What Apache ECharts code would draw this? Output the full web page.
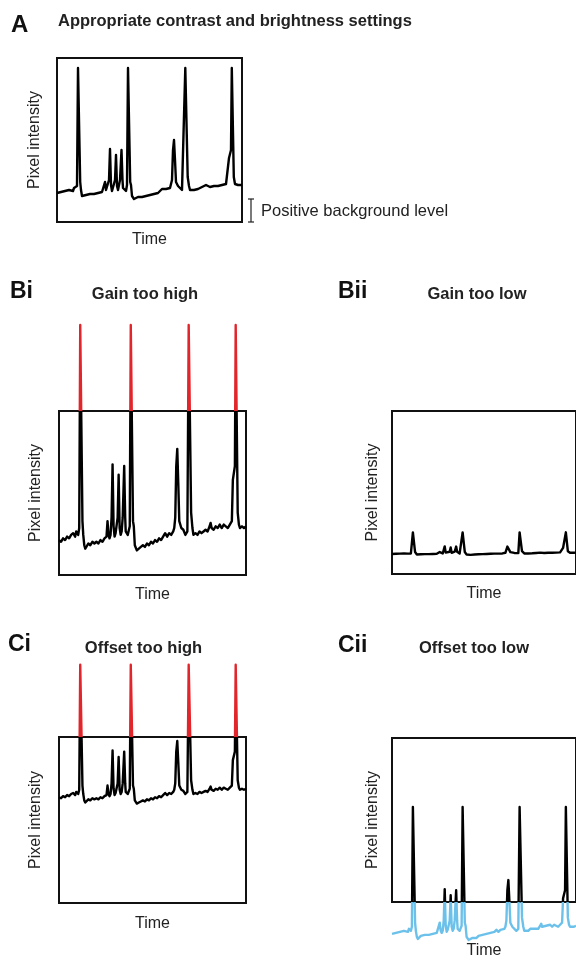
<!DOCTYPE html>
<html><head><meta charset="utf-8">
<script src="https://cdn.jsdelivr.net/npm/echarts@6/dist/echarts.min.js"></script>
<style>html,body{margin:0;padding:0;background:#fff}#c{width:576px;height:960px}</style>
</head><body><div id="c"></div>
<script>
// Base recorded trace (arbitrary time units, arbitrary intensity units)
const timeValues = [0,2,4,6,8,10,12,14,16,17,18,19,20,21,22.4,23.2,24,25,26,27,29,31,33,35,37,39,41,43,45,47,48,49,50,51,52,53,54,55,56,58,59,60,61,62,63,64.5,65.5,66,68,69,70,71,72.4,73.2,74,75,77,79,81,83,85,87,89,91,93,95,97,99,101,103,105,107,109,111,113,114,115,116,117,118,119,121,123,125,127,128.3,129.7,130.7,132,133,135,137,139,141,143,145,147,149,150,151,153,155,157,159,161,163,165,167,169,171,172,173,174,174.8,176,176.8,178,179,181,183,185];
const intensityValues = [29,28,30,29,31,30,32,33,31,34,35,32,36,154,154,40,32,26,24,25,27,26,28,27,28,27,29,28,30,31,40,32,30,32,42,73,37,31,33,42,67,36,32,34,42,72,42,34,32,31,37,154,154,40,37,26,23,24,25,26,25,27,26,28,27,29,28,30,29,31,33,31,33,32,34,36,42,72,82,62,40,36,35,32,34,154,154,45,36,32,33,32,34,33,34,35,34,37,39,36,35,37,36,38,36,38,37,36,38,40,64,68,72,154,154,45,38,36,37,36,37];

const panelLetters = ['A', 'Bi', 'Bii', 'Ci', 'Cii'];
const panelTitles = ['Appropriate contrast and brightness settings', 'Gain too high', 'Gain too low', 'Offset too high', 'Offset too low'];
// displayed intensity window for each acquisition setting
const windowMin = [0, 8.7, -86.7, -70.8, 60.4];
const windowMax = [164, 104, 855, 85.8, 222];
const timeMin = 0, timeMax = 185;

const FONT = '"Liberation Sans", Arial, Helvetica, sans-serif';
const RED = '#e2252b', BLUE = '#6cc1ea';

const grids = [
  {left: 57, top: 58, width: 185, height: 164},
  {left: 59, top: 411, width: 187, height: 164},
  {left: 392, top: 411, width: 187, height: 163},
  {left: 59, top: 737, width: 187, height: 166},
  {left: 392, top: 738, width: 187, height: 165}
];
const timeGaps = [10, 12, 12, 13, 41];
const yNameGaps = [14, 15, 11, 15, 11];
const withVisualMap = [false, true, false, true, true];

const seriesData = timeValues.map((t, i) => [t, intensityValues[i]]);
const BIG = 100000;

const option = {
  animation: false,
  backgroundColor: '#fff',
  grid: grids.map(g => Object.assign({show: true, borderColor: '#111', borderWidth: 2, backgroundColor: 'transparent', containLabel: false}, g)),
  xAxis: grids.map((g, i) => ({
    type: 'value', gridIndex: i, min: timeMin, max: timeMax,
    axisLine: {show: false, onZero: false}, axisTick: {show: false}, axisLabel: {show: false}, splitLine: {show: false},
    name: 'Time', nameLocation: 'middle', nameGap: timeGaps[i],
    nameTextStyle: {fontSize: 16, color: '#222', fontFamily: FONT}
  })),
  yAxis: grids.map((g, i) => ({
    type: 'value', gridIndex: i, min: windowMin[i], max: windowMax[i],
    axisLine: {show: false, onZero: false}, axisTick: {show: false}, axisLabel: {show: false}, splitLine: {show: false},
    name: 'Pixel intensity', nameLocation: 'middle', nameRotate: 90, nameGap: yNameGaps[i],
    nameTextStyle: {fontSize: 16, color: '#222', fontFamily: FONT}
  })),
  visualMap: [
    {show: false, type: 'piecewise', seriesIndex: 1, dimension: 1, pieces: [{min: windowMax[1], max: BIG, color: RED}, {min: -BIG, max: windowMax[1], color: '#000'}]},
    {show: false, type: 'piecewise', seriesIndex: 3, dimension: 1, pieces: [{min: windowMax[3], max: BIG, color: RED}, {min: -BIG, max: windowMax[3], color: '#000'}]},
    {show: false, type: 'piecewise', seriesIndex: 4, dimension: 1, pieces: [{min: -BIG, max: windowMin[4], color: BLUE}, {min: windowMin[4], max: BIG, color: '#000'}]}
  ],
  series: grids.map((g, i) => {
    const s = {
      type: 'line', xAxisIndex: i, yAxisIndex: i, data: seriesData,
      showSymbol: false, symbol: 'none', clip: false, z: 3,
      lineStyle: {width: 2.4, join: 'round'}
    };
    if (!withVisualMap[i]) s.color = '#000';
    return s;
  }),
  graphic: [
    {type: 'text', x: 11, y: 25, style: {text: panelLetters[0], font: 'bold 24px ' + FONT, fill: '#111', textVerticalAlign: 'middle'}},
    {type: 'text', x: 58, y: 21, style: {text: panelTitles[0], font: 'bold 16.5px ' + FONT, fill: '#222', textVerticalAlign: 'middle'}},
    {type: 'text', x: 10, y: 292, style: {text: panelLetters[1], font: 'bold 23px ' + FONT, fill: '#111', textVerticalAlign: 'middle'}},
    {type: 'text', x: 145, y: 294, style: {text: panelTitles[1], font: 'bold 16.5px ' + FONT, fill: '#222', textAlign: 'center', textVerticalAlign: 'middle'}},
    {type: 'text', x: 338, y: 292, style: {text: panelLetters[2], font: 'bold 23px ' + FONT, fill: '#111', textVerticalAlign: 'middle'}},
    {type: 'text', x: 477, y: 294, style: {text: panelTitles[2], font: 'bold 16.5px ' + FONT, fill: '#222', textAlign: 'center', textVerticalAlign: 'middle'}},
    {type: 'text', x: 8, y: 645, style: {text: panelLetters[3], font: 'bold 23px ' + FONT, fill: '#111', textVerticalAlign: 'middle'}},
    {type: 'text', x: 143.5, y: 648, style: {text: panelTitles[3], font: 'bold 16.5px ' + FONT, fill: '#222', textAlign: 'center', textVerticalAlign: 'middle'}},
    {type: 'text', x: 338, y: 646, style: {text: panelLetters[4], font: 'bold 23px ' + FONT, fill: '#111', textVerticalAlign: 'middle'}},
    {type: 'text', x: 474, y: 648, style: {text: panelTitles[4], font: 'bold 16.5px ' + FONT, fill: '#222', textAlign: 'center', textVerticalAlign: 'middle'}},
    {type: 'text', x: 261, y: 211, style: {text: 'Positive background level', font: '16.5px ' + FONT, fill: '#222', textVerticalAlign: 'middle'}},
    {type: 'line', shape: {x1: 251, y1: 199, x2: 251, y2: 222}, style: {stroke: '#222', lineWidth: 1.2}},
    {type: 'line', shape: {x1: 248, y1: 199, x2: 254, y2: 199}, style: {stroke: '#222', lineWidth: 1.2}},
    {type: 'line', shape: {x1: 248, y1: 222, x2: 254, y2: 222}, style: {stroke: '#222', lineWidth: 1.2}}
  ]
};
const chart = echarts.init(document.getElementById('c'), null, {renderer: 'canvas'});
chart.setOption(option);
</script>
</body></html>
